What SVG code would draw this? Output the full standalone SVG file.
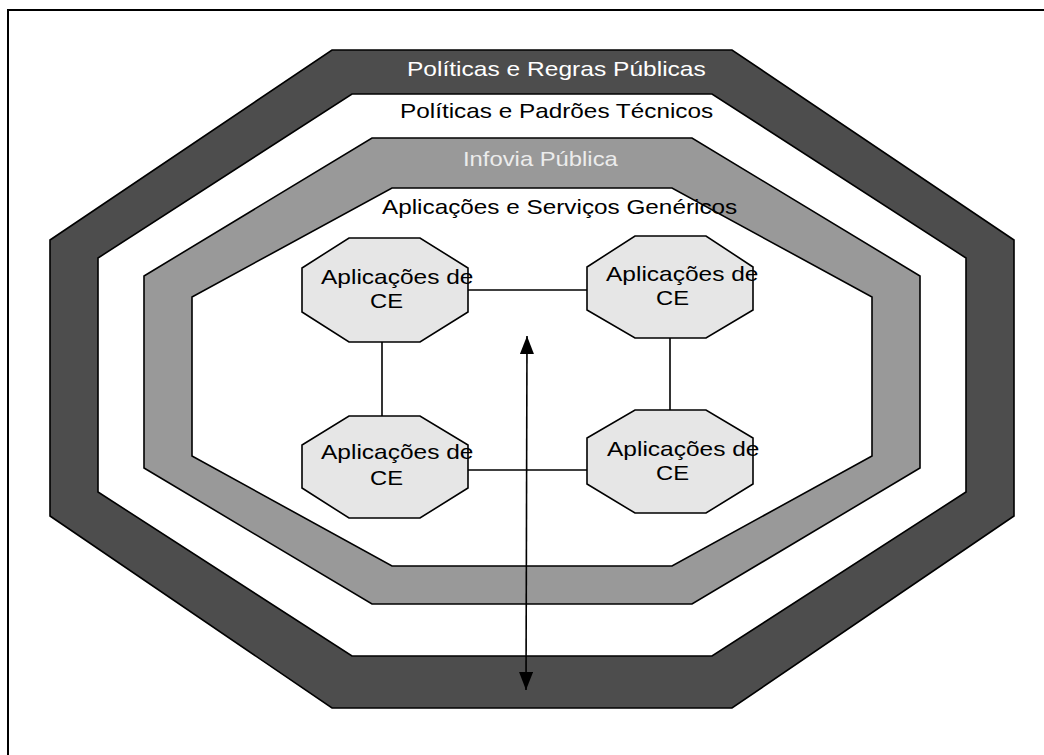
<svg xmlns="http://www.w3.org/2000/svg" width="1044" height="755" viewBox="0 0 1044 755">
  <style>
    .band { stroke: #000; stroke-width: 1.6; stroke-linejoin: miter; }
    .dark { fill: #4d4d4d; }
    .mid { fill: #999999; }
    .gap { fill: #ffffff; }
    .app { fill: #e6e6e6; stroke: #000; stroke-width: 1.6; }
    .lbl { font-family: "Liberation Sans", Arial, sans-serif; font-size: 20px; }
    .link { stroke: #000; stroke-width: 1.6; fill: none; }
  </style>
  <defs>
    <marker id="head" viewBox="0 0 18 14" refX="18" refY="7" markerWidth="18" markerHeight="14" markerUnits="userSpaceOnUse" orient="auto-start-reverse">
      <path d="M0,0 L18,7 L0,14 Z" fill="#000"/>
    </marker>
  </defs>

  <!-- page frame -->
  <rect x="8" y="10" width="1060" height="770" fill="none" stroke="#000" stroke-width="2"/>

  <!-- concentric layers; labels are widened 1.2x horizontally -->
  <g id="layer-regras">
    <polygon class="band dark" points="332,50 732,50 1014,240 1014,516 732,708 332,708 50,516 50,240"/>
    <text class="lbl" transform="translate(407,76) scale(1.2,1)" fill="#ffffff" textLength="249" lengthAdjust="spacingAndGlyphs">Políticas e Regras Públicas</text>
  </g>
  <g id="layer-padroes">
    <polygon class="band gap" points="352,94 712,94 966,258 966,492 712,656 352,656 98,492 98,258"/>
    <text class="lbl" transform="translate(400,118) scale(1.2,1)" fill="#000" textLength="261" lengthAdjust="spacingAndGlyphs">Políticas e Padrões Técnicos</text>
  </g>
  <g id="layer-infovia">
    <polygon class="band mid" points="372,138 692,138 920,276 920,468 692,604 372,604 144,468 144,276"/>
    <text class="lbl" transform="translate(463,166) scale(1.2,1)" fill="#ececec" textLength="129" lengthAdjust="spacingAndGlyphs">Infovia Pública</text>
  </g>
  <g id="layer-servicos">
    <polygon class="band gap" points="392,188 672,188 872,297 872,456 672,566 392,566 192,456 192,297"/>
    <text class="lbl" transform="translate(382,214) scale(1.2,1)" fill="#000" textLength="296" lengthAdjust="spacingAndGlyphs">Aplicações e Serviços Genéricos</text>
  </g>

  <!-- connectors -->
  <g id="connectors">
    <line class="link" x1="468" y1="290" x2="587" y2="290"/>
    <line class="link" x1="468" y1="470" x2="587" y2="470"/>
    <line class="link" x1="382" y1="342" x2="382" y2="416"/>
    <line class="link" x1="670" y1="338" x2="670" y2="410"/>
    <line class="link" x1="527" y1="336" x2="526" y2="690" marker-start="url(#head)" marker-end="url(#head)"/>
  </g>

  <!-- application nodes -->
  <g id="app-1">
    <polygon class="app" points="349,238 420,238 468,268 468,312 420,342 349,342 302,312 302,268"/>
    <text class="lbl" transform="translate(321,284) scale(1.2,1)" textLength="127" lengthAdjust="spacingAndGlyphs">Aplicações de</text>
    <text class="lbl" transform="translate(370,308) scale(1.2,1)" textLength="27.5" lengthAdjust="spacingAndGlyphs">CE</text>
  </g>
  <g id="app-2">
    <polygon class="app" points="635,236 706,236 753,267 753,310 706,338 635,338 587,310 587,267"/>
    <text class="lbl" transform="translate(606,281) scale(1.2,1)" textLength="127" lengthAdjust="spacingAndGlyphs">Aplicações de</text>
    <text class="lbl" transform="translate(656,305) scale(1.2,1)" textLength="27.5" lengthAdjust="spacingAndGlyphs">CE</text>
  </g>
  <g id="app-3">
    <polygon class="app" points="349,416 420,416 468,445 468,488 420,518 349,518 302,488 302,445"/>
    <text class="lbl" transform="translate(321,459) scale(1.2,1)" textLength="127" lengthAdjust="spacingAndGlyphs">Aplicações de</text>
    <text class="lbl" transform="translate(370,485) scale(1.2,1)" textLength="27.5" lengthAdjust="spacingAndGlyphs">CE</text>
  </g>
  <g id="app-4">
    <polygon class="app" points="635,410 706,410 753,438 753,484 706,513 635,513 587,484 587,438"/>
    <text class="lbl" transform="translate(607,456) scale(1.2,1)" textLength="127" lengthAdjust="spacingAndGlyphs">Aplicações de</text>
    <text class="lbl" transform="translate(656,480) scale(1.2,1)" textLength="27.5" lengthAdjust="spacingAndGlyphs">CE</text>
  </g>
</svg>
